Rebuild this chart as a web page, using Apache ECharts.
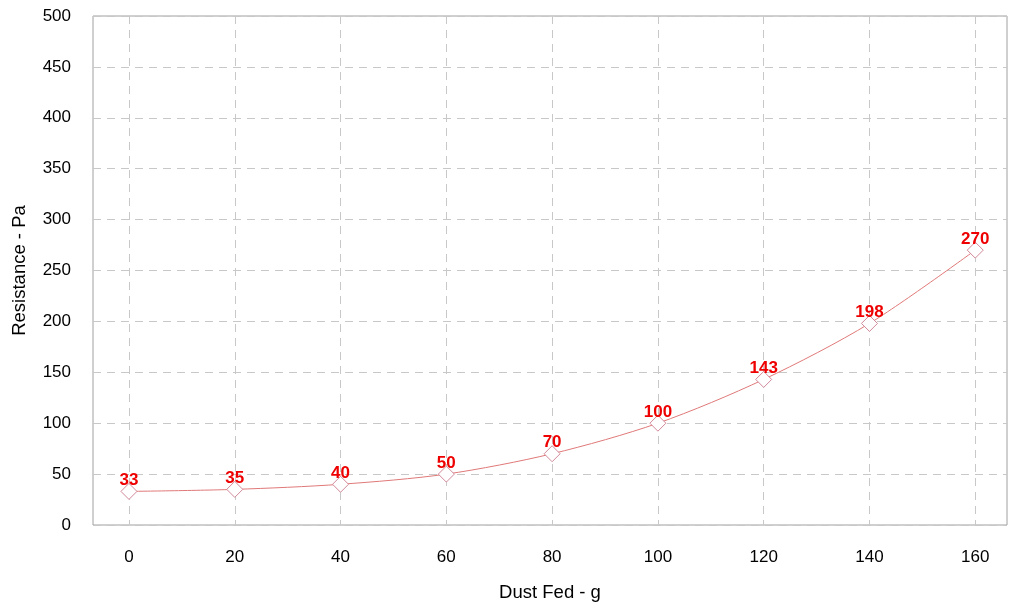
<!DOCTYPE html>
<html>
<head>
<meta charset="utf-8">
<script src="https://cdn.jsdelivr.net/npm/echarts@6/dist/echarts.min.js"></script>
<style>
  html, body { margin: 0; padding: 0; background: #fff; }
  #chart { width: 1015px; height: 602px; }
</style>
</head>
<body>
<div id="chart"></div>
<script>
// Dust fed (g) against filter resistance (Pa)
const dustFed = [0, 20, 40, 60, 80, 100, 120, 140, 160];
const resistance = [33, 35, 40, 50, 70, 100, 143, 198, 270];
const xTicks = [0, 20, 40, 60, 80, 100, 120, 140, 160];

const chart = echarts.init(document.getElementById('chart'));
const font = 'Liberation Sans, Arial, sans-serif';

chart.setOption({
  animation: false,
  grid: {
    left: 93, right: 8, top: 16, bottom: 77,
    outerBoundsMode: 'none', containLabel: false,
    show: true, borderColor: '#a0a0a0', borderWidth: 1
  },
  xAxis: {
    type: 'value',
    min: -6.8, max: 166,
    name: 'Dust Fed - g',
    nameLocation: 'middle',
    nameGap: 58,
    nameTextStyle: { fontFamily: font, fontSize: 18.5, color: '#000' },
    axisLine: { show: false },
    axisTick: { show: false, customValues: xTicks },
    axisLabel: { customValues: xTicks, margin: 24, fontFamily: font, fontSize: 17, color: '#000' },
    splitLine: { show: true, lineStyle: { color: '#c8c8c8', type: [8, 6], width: 1 } }
  },
  yAxis: {
    type: 'value',
    min: 0, max: 500, interval: 50,
    name: 'Resistance - Pa',
    nameLocation: 'middle',
    nameGap: 64,
    nameTextStyle: { fontFamily: font, fontSize: 18.5, color: '#000' },
    axisLine: { show: false },
    axisTick: { show: false },
    axisLabel: { margin: 22, fontFamily: font, fontSize: 17, color: '#000' },
    splitLine: { show: true, lineStyle: { color: '#c8c8c8', type: [8, 6], width: 1 } }
  },
  series: [{
    type: 'line',
    data: dustFed.map((x, i) => [x, resistance[i]]),
    smooth: 0.3,
    symbol: 'diamond',
    symbolSize: 16,
    showAllSymbol: true,
    lineStyle: { color: '#e07878', width: 1 },
    itemStyle: { color: '#fff', borderColor: '#d08898', borderWidth: 1 },
    label: {
      show: true, position: 'top', distance: -6,
      color: '#ee0000', fontWeight: 'bold', fontSize: 17, fontFamily: font
    }
  }]
});
</script>
</body>
</html>
